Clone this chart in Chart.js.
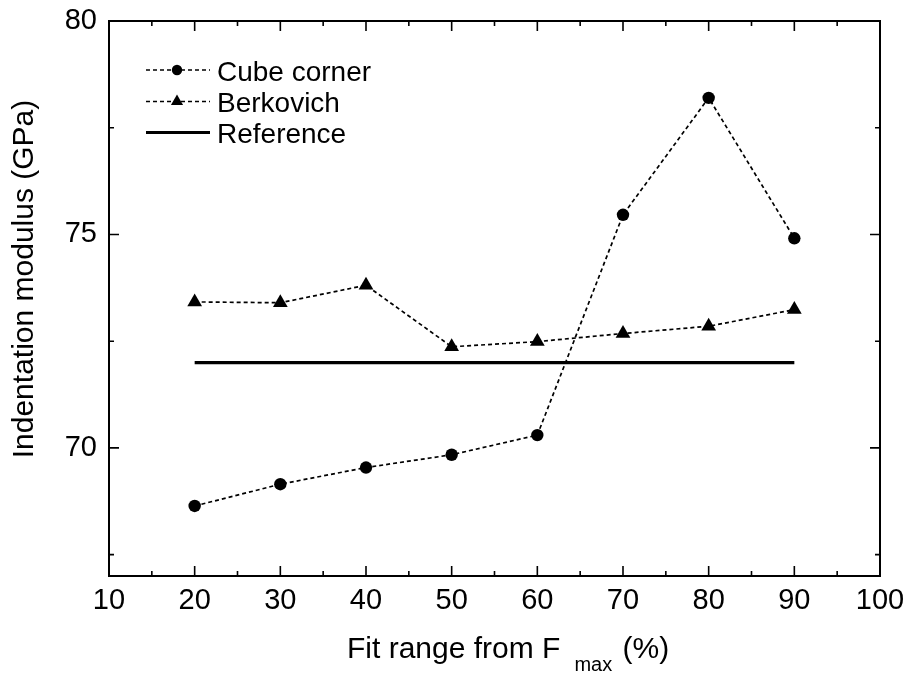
<!DOCTYPE html>
<html>
<head>
<meta charset="utf-8">
<script src="https://cdn.jsdelivr.net/npm/chart.js@4"></script>
<style>
html,body{margin:0;padding:0;background:#fff;}
#wrap{width:911px;height:676px;position:relative;}
</style>
</head>
<body>
<div id="wrap"><canvas id="c" width="911" height="676"></canvas></div>
<script>
// ---- data ----
const fitRange = [20, 30, 40, 50, 60, 70, 80, 90];
const cubeCorner = [68.64, 69.15, 69.54, 69.84, 70.30, 75.46, 78.20, 74.91];
const berkovich = [73.42, 73.40, 73.81, 72.37, 72.49, 72.68, 72.85, 73.24];
const referenceX = [20, 90];
const referenceY = [72, 72];
const seriesNames = ['Cube corner', 'Berkovich', 'Reference'];
const xMajorTicks = [10, 20, 30, 40, 50, 60, 70, 80, 90, 100];
const xMinorTicks = [15, 25, 35, 45, 55, 65, 75, 85, 95];
const yMajorTicks = [70, 75, 80];
const yMinorTicks = [67.5, 72.5, 77.5];
const xTitleMain = 'Fit range from F';
const xTitleSub = 'max';
const xTitleEnd = ' (%)';
const yTitle = 'Indentation modulus (GPa)';

const FONT = '"Liberation Sans", Arial, sans-serif';

const toXY = (xs, ys) => xs.map((x, i) => ({x: x, y: ys[i]}));

// inward ticks on all four sides + frame
const frameTicks = {
  id: 'frameTicks',
  afterDatasetsDraw(chart) {
    const {ctx, chartArea: a, scales: {x, y}} = chart;
    ctx.save();
    ctx.strokeStyle = '#000';
    ctx.lineWidth = 1.6;
    ctx.beginPath();
    const tx = (v, len) => {
      const px = x.getPixelForValue(v);
      ctx.moveTo(px, a.bottom); ctx.lineTo(px, a.bottom - len);
      ctx.moveTo(px, a.top); ctx.lineTo(px, a.top + len);
    };
    const ty = (v, len) => {
      const py = y.getPixelForValue(v);
      ctx.moveTo(a.left, py); ctx.lineTo(a.left + len, py);
      ctx.moveTo(a.right, py); ctx.lineTo(a.right - len, py);
    };
    xMajorTicks.forEach(v => tx(v, 10));
    xMinorTicks.forEach(v => tx(v, 5));
    yMajorTicks.forEach(v => ty(v, 10));
    yMinorTicks.forEach(v => ty(v, 5));
    ctx.stroke();
    ctx.lineWidth = 2;
    ctx.strokeRect(a.left, a.top, a.right - a.left, a.bottom - a.top);
    ctx.restore();
  }
};

// axis titles (x has subscript)
const axisTitles = {
  id: 'axisTitles',
  afterDraw(chart) {
    const {ctx} = chart;
    ctx.save();
    ctx.fillStyle = '#000';
    ctx.textBaseline = 'alphabetic';
    ctx.textAlign = 'left';
    const big = '30px ' + FONT, small = '20px ' + FONT;
    ctx.font = big;
    const w1 = ctx.measureText(xTitleMain).width;
    ctx.font = small;
    const w2 = ctx.measureText(xTitleSub).width;
    const sx = 347;
    const base = 658;
    ctx.font = big; ctx.fillText(xTitleMain, sx, base);
    ctx.font = small; ctx.fillText(xTitleSub, sx + w1 + 14, base + 13);
    ctx.font = big; ctx.fillText(xTitleEnd, sx + w1 + 14 + w2 + 2, base);
    // y title
    ctx.translate(25, 279);
    ctx.rotate(-Math.PI / 2);
    ctx.textAlign = 'center';
    ctx.textBaseline = 'middle';
    ctx.font = big;
    ctx.fillText(yTitle, 0, 0);
    ctx.restore();
  }
};

// legend inside the plot
const insideLegend = {
  id: 'insideLegend',
  afterDraw(chart) {
    const {ctx} = chart;
    ctx.save();
    const rowsBase = [80.5, 112, 143];
    chart.data.datasets.forEach((ds, i) => {
      const b = rowsBase[i];
      const ly = b - 10.5;
      ctx.strokeStyle = '#000';
      ctx.lineWidth = ds.borderWidth;
      ctx.setLineDash(ds.borderDash || []);
      ctx.beginPath(); ctx.moveTo(146, ly); ctx.lineTo(210, ly); ctx.stroke();
      ctx.setLineDash([]);
      if (ds.pointRadius > 0) {
        ctx.fillStyle = '#000';
        ctx.beginPath();
        if (ds.pointStyle === 'triangle') {
          const r = 7;
          ctx.moveTo(177, ly - r);
          ctx.lineTo(177 + r * 0.866, ly + r * 0.5);
          ctx.lineTo(177 - r * 0.866, ly + r * 0.5);
          ctx.closePath();
        } else {
          ctx.arc(177, ly, 5.2, 0, Math.PI * 2);
        }
        ctx.fill();
      }
      ctx.fillStyle = '#000';
      ctx.font = '28px ' + FONT;
      ctx.textAlign = 'left';
      ctx.textBaseline = 'alphabetic';
      ctx.fillText(ds.label, 217, b);
    });
    ctx.restore();
  }
};

new Chart(document.getElementById('c'), {
  type: 'line',
  data: {
    datasets: [
      {
        label: seriesNames[0],
        data: toXY(fitRange, cubeCorner),
        borderColor: '#000', backgroundColor: '#000',
        borderWidth: 1.7, borderDash: [4, 3],
        pointStyle: 'circle', pointRadius: 6.2, pointBorderWidth: 0,
        pointBackgroundColor: '#000'
      },
      {
        label: seriesNames[1],
        data: toXY(fitRange, berkovich),
        borderColor: '#000', backgroundColor: '#000',
        borderWidth: 1.7, borderDash: [4, 3],
        pointStyle: 'triangle', pointRadius: 8.5, pointBorderWidth: 0,
        pointBackgroundColor: '#000'
      },
      {
        label: seriesNames[2],
        data: toXY(referenceX, referenceY),
        borderColor: '#000', backgroundColor: '#000',
        borderWidth: 3.2, pointRadius: 0
      }
    ]
  },
  options: {
    responsive: false,
    animation: false,
    layout: {padding: {left: 0, top: 21, right: 31, bottom: 0}},
    plugins: {legend: {display: false}, tooltip: {enabled: false}},
    scales: {
      x: {
        type: 'linear', min: 10, max: 100,
        afterFit: s => { s.height = 100; s.paddingLeft = 0; s.paddingRight = 0; },
        afterBuildTicks: s => { s.ticks = xMajorTicks.map(v => ({value: v})); },
        grid: {display: false, drawTicks: false},
        border: {display: false},
        ticks: {color: '#000', font: {family: FONT, size: 29}, padding: 8, maxRotation: 0, autoSkip: false}
      },
      y: {
        type: 'linear', min: 67, max: 80,
        afterFit: s => { s.width = 109; s.paddingTop = 0; s.paddingBottom = 0; },
        afterBuildTicks: s => { s.ticks = yMajorTicks.map(v => ({value: v})); },
        grid: {display: false, drawTicks: false},
        border: {display: false},
        ticks: {color: '#000', font: {family: FONT, size: 29}, padding: 12}
      }
    }
  },
  plugins: [frameTicks, axisTitles, insideLegend]
});
</script>
</body>
</html>
